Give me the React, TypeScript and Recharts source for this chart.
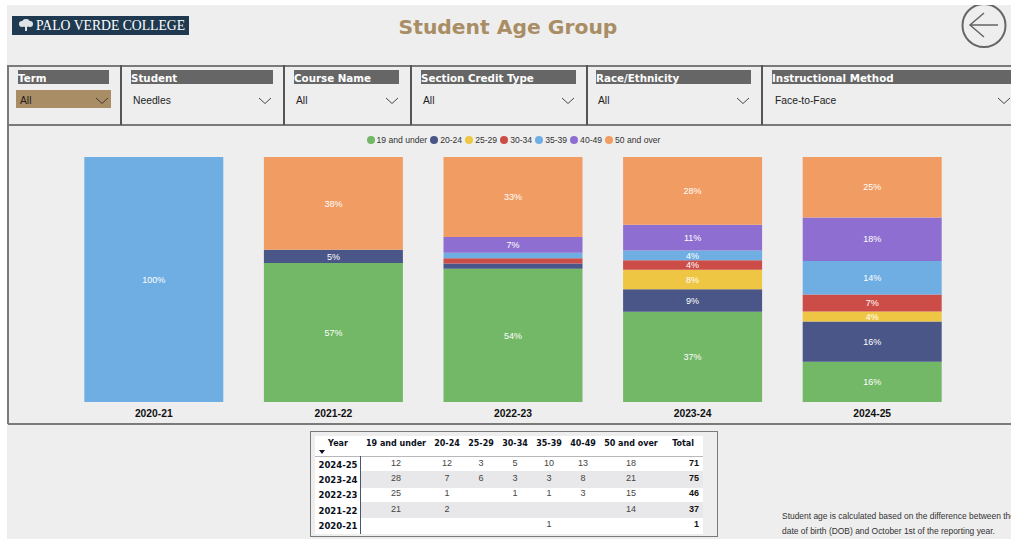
import { Bar, BarChart, LabelList, Legend, XAxis, YAxis } from "recharts"

// Enrollment counts per academic year
const years = ["2020-21", "2021-22", "2022-23", "2023-24", "2024-25"]
const ageGroups = ["19 and under", "20-24", "25-29", "30-34", "35-39", "40-49", "50 and over"]
const colors = ["#72B866", "#4A5688", "#EFC643", "#CC4D48", "#6FAEE3", "#8E6FD1", "#F09C62"]

const under20 = [0, 21, 25, 28, 12]
const age20to24 = [0, 2, 1, 7, 12]
const age25to29 = [0, 0, 0, 6, 3]
const age30to34 = [0, 0, 1, 3, 5]
const age35to39 = [1, 0, 1, 3, 10]
const age40to49 = [0, 0, 3, 8, 13]
const age50plus = [0, 14, 15, 21, 18]
const totals = [1, 37, 46, 75, 71]

const seriesValues = [under20, age20to24, age25to29, age30to34, age35to39, age40to49, age50plus]

// each row also carries the percent text for its segment, small segments stay unlabelled
const chartData = years.map((year, i) => {
  const row: Record<string, string | number | null> = { year }
  const sum = seriesValues.reduce((a, s) => a + s[i], 0)
  ageGroups.forEach((g, s) => {
    const pct = seriesValues[s][i] / sum
    row[g] = seriesValues[s][i]
    row[`${g} label`] = pct < 0.03 ? null : `${Math.round(pct * 100)}%`
  })
  return row
})

const tableYears = [4, 3, 2, 1, 0]

const FONT = "'Liberation Sans', Arial, sans-serif"
const WIDE = "'DejaVu Sans', Verdana, sans-serif"
const TAN = "#A98D64"
const LINE = "#7A7A7A"

const filters = [
  { label: "Term", value: "All", lx: 18, lw: 91, tx: 20, cx: 102, active: true },
  { label: "Student", value: "Needles", lx: 131, lw: 142, tx: 133, cx: 265 },
  { label: "Course Name", value: "All", lx: 294, lw: 105, tx: 296, cx: 392 },
  { label: "Section Credit Type", value: "All", lx: 421, lw: 155, tx: 423, cx: 568 },
  { label: "Race/Ethnicity", value: "All", lx: 596, lw: 155, tx: 598, cx: 743 },
  { label: "Instructional Method", value: "Face-to-Face", lx: 772, lw: 239, tx: 775, cx: 1004 },
]
const dividers = [120, 283, 410, 586, 761]

const columns = [
  { x: 396, w: 80 },
  { x: 447, w: 34 },
  { x: 481, w: 34 },
  { x: 515, w: 34 },
  { x: 549, w: 34 },
  { x: 583, w: 34 },
  { x: 631, w: 62 },
]
const rowTops = [457, 472, 487, 502.5, 518]

function renderLegend() {
  return (
    <div style={{ display: "flex", justifyContent: "center", gap: 3, fontFamily: FONT, fontSize: 8.6, lineHeight: "12px" }}>
      {ageGroups.map((g, s) => (
        <div key={g} style={{ display: "flex", alignItems: "center", gap: 2, color: "#333" }}>
          <svg width={8} height={8}>
            <circle cx={4} cy={4} r={4} fill={colors[s]} />
          </svg>
          <span>{g}</span>
        </div>
      ))}
    </div>
  )
}

function Box(p: { x: number; y: number; w: number; h: number; bg?: string; children?: any; style?: any }) {
  return (
    <div
      style={{
        position: "absolute",
        left: p.x,
        top: p.y,
        width: p.w,
        height: p.h,
        background: p.bg,
        ...p.style,
      }}
    >
      {p.children}
    </div>
  )
}

function Cell(p: { x: number; y: number; w: number; text: any; bold?: boolean; align?: string; color?: string; font?: string; size?: number }) {
  return (
    <div
      style={{
        position: "absolute",
        left: p.x,
        top: p.y,
        width: p.w,
        textAlign: (p.align || "center") as any,
        fontFamily: p.font || FONT,
        fontSize: p.size || 9,
        fontWeight: p.bold ? 700 : 400,
        color: p.color || "#444",
        lineHeight: "12px",
        whiteSpace: "nowrap",
      }}
    >
      {p.text}
    </div>
  )
}

export default function App() {
  return (
    <div style={{ position: "absolute", left: 0, top: 0, width: 1011, height: 539, background: "#fff", overflow: "hidden" }}>
      <Box x={7} y={5} w={1004} h={534} bg="#EEEEEE" />

      {/* logo */}
      <Box x={12} y={16} w={177} h={19} bg="#1F3A50">
        <svg width={20} height={19} style={{ position: "absolute", left: 4, top: 0 }}>
          <circle cx={10} cy={7} r={4} fill="#DDE3E6" />
          <circle cx={6} cy={8} r={3} fill="#DDE3E6" />
          <circle cx={14} cy={8} r={3} fill="#DDE3E6" />
          <rect x={9} y={9} width={2} height={6} fill="#DDE3E6" />
        </svg>
        <div
          style={{
            position: "absolute",
            left: 24,
            top: 1,
            color: "#fff",
            fontFamily: "'Liberation Serif', serif",
            fontSize: 13.7,
            lineHeight: "18px",
            whiteSpace: "nowrap",
          }}
        >
          PALO VERDE COLLEGE
        </div>
      </Box>

      {/* title */}
      <div
        style={{
          position: "absolute",
          left: 308,
          width: 400,
          top: 13,
          textAlign: "center",
          fontFamily: WIDE,
          fontWeight: 700,
          fontSize: 20.3,
          lineHeight: "28px",
          color: TAN,
        }}
      >
        Student Age Group
      </div>

      {/* back button */}
      <svg width={60} height={50} style={{ position: "absolute", left: 955, top: 5 }}>
        <circle cx={29} cy={20.5} r={21.5} fill="none" stroke="#666" strokeWidth={2} />
        <path d="M15 20 H43 M29 8 L15 20 L29 32" fill="none" stroke="#666" strokeWidth={1.5} />
      </svg>

      {/* filter panel */}
      <Box x={8} y={65} w={1003} h={1.5} bg={LINE} />
      <Box x={8} y={124} w={1003} h={1.5} bg={LINE} />
      <Box x={7} y={65} w={1.5} h={359} bg={LINE} />
      {dividers.map((x) => (
        <Box key={x} x={x} y={65} w={1.5} h={60} bg="#555" />
      ))}
      {filters.map((f) => (
        <div key={f.label}>
          <Box x={f.lx} y={70} w={f.lw} h={14} bg="#666666" />
          <Cell
            x={f.lx}
            y={72}
            w={f.lw}
            text={f.label}
            bold
            align="left"
            color="#fff"
            font={WIDE}
            size={10.3}
          />
          {f.active && <Box x={16} y={90} w={95} h={18} bg={TAN} />}
          <Cell x={f.tx} y={95} w={100} text={f.value} align="left" color="#222" size={10.3} />
          <svg width={14} height={8} style={{ position: "absolute", left: f.cx - 7, top: 97 }}>
            <path d="M1 1 L7 6.5 L13 1" fill="none" stroke="#333" strokeWidth={0.9} />
          </svg>
        </div>
      ))}

      {/* chart */}
      <div style={{ position: "absolute", left: 0, top: 128 }}>
        <BarChart
          width={1011}
          height={295}
          data={chartData}
          stackOffset="expand"
          barCategoryGap="11.3%"
          margin={{ top: 17, right: 49, bottom: 0, left: 64 }}
        >
          <XAxis
            dataKey="year"
            axisLine={false}
            tickLine={false}
            height={21}
            interval={0}
            tick={{ fontSize: 10.3, fontWeight: 700, fontFamily: FONT, fill: "#111" }}
          />
          <YAxis hide domain={[0, 1]} />
          <Legend
            verticalAlign="top"
            align="center"
            height={0}
            content={renderLegend}
            wrapperStyle={{ top: 6, left: 8, width: 1011 }}
          />
          {ageGroups.map((g, s) => (
            <Bar key={g} dataKey={g} stackId="age" fill={colors[s]} isAnimationActive={false}>
              <LabelList dataKey={`${g} label`} position="center" fill="#fff" fontSize={9} fontFamily={FONT} />
            </Bar>
          ))}
        </BarChart>
      </div>
      <Box x={8} y={423} w={1003} h={1.5} bg={LINE} />

      {/* table */}
      <Box x={310} y={431} w={408} h={106} style={{ border: `1px solid ${LINE}`, boxSizing: "border-box" }} />
      <Box x={315} y={436} w={388} h={98} bg="#fff" />
      <Cell x={315} y={438} w={46} text="Year" bold color="#0B1020" font={WIDE} size={8} />
      <svg width={6} height={4} style={{ position: "absolute", left: 319, top: 450 }}>
        <path d="M0 0 H6 L3 4 Z" fill="#0B1020" />
      </svg>
      {ageGroups.map((g, c) => (
        <Cell
          key={g}
          x={columns[c].x - columns[c].w / 2}
          y={438}
          w={columns[c].w}
          text={g}
          bold
          color="#0B1020"
          font={WIDE}
          size={8}
        />
      ))}
      <Cell x={650} y={438} w={44} text="Total" bold align="right" color="#0B1020" font={WIDE} size={8} />
      <Box x={315} y={455.5} w={388} h={1} bg="#B8B8BC" />
      {tableYears.map((yi, r) => (
        <div key={yi}>
          {r % 2 === 1 && <Box x={361} y={rowTops[r] - 1} w={342} h={16.5} bg="#E8E8EA" />}
          <Cell x={315} y={rowTops[r] + 2} w={46} text={years[yi]} bold color="#0B1020" font={WIDE} size={8.5} />
          {seriesValues.map((s, c) =>
            s[yi] ? (
              <Cell key={c} x={columns[c].x - 20} y={rowTops[r]} w={40} text={s[yi]} />
            ) : null,
          )}
          <Cell x={655} y={rowTops[r]} w={44} text={totals[yi]} bold align="right" color="#111" />
        </div>
      ))}
      <Box x={360} y={456} w={1.2} h={78} bg="#4A5670" />

      {/* note, runs off the right edge in the reference too */}
      <Cell x={782} y={510} w={240} text="Student age is calculated based on the difference between the" align="left" color="#333" size={8.45} />
      <Cell x={782} y={524.5} w={240} text="date of birth (DOB) and October 1st of the reporting year." align="left" color="#333" size={8.45} />
    </div>
  )
}
